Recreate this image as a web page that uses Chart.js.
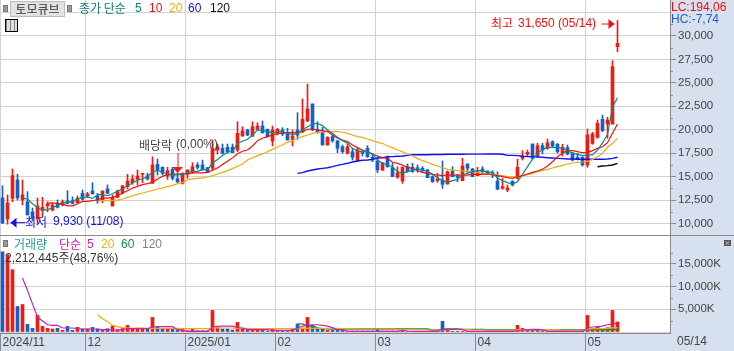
<!DOCTYPE html>
<html>
<head>
<meta charset="utf-8">
<script src="https://cdn.jsdelivr.net/npm/chart.js@4"></script>
<style>
html, body { margin: 0; padding: 0; background: #fff; }
#wrap { position: relative; width: 734px; height: 351px; overflow: hidden; background: #d6e0ee; font-family: "Noto Sans CJK KR", sans-serif; }
canvas { position: absolute; left: 0; }
#priceChart { top: 0; }
#volumeChart { top: 235px; }
.t { position: absolute; white-space: nowrap; font-size: 12px; line-height: 14px; }
.n { font-family: "Liberation Sans", sans-serif; font-size: 12px; }
.sq { position: absolute; width: 3px; height: 5px; background: #999; border: 1px solid #777; }
#stockBtn { position: absolute; left: 10px; top: 1px; width: 53px; height: 14px; background: #e2e2e2; border: 1px solid #bbb; color: #333; font-size: 12px; line-height: 14px; text-align: center; }
#tableIcon { position: absolute; left: 5px; top: 19px; width: 11px; height: 11px; border: 1px solid #000; background: repeating-linear-gradient(90deg, #888 0 1px, #ddd 1px 4px), #ddd; }
#closeIcon { position: absolute; left: 724px; top: 240px; width: 7px; height: 6px; background: #555; color: #fff; font-size: 6px; line-height: 6px; text-align: center; }
</style>
</head>
<body>
<div id="wrap">
    <canvas id="priceChart" width="734" height="235"></canvas>
    <canvas id="volumeChart" width="734" height="116"></canvas>

    <div class="sq" style="left:3px;top:5px"></div>
    <div id="stockBtn">토모큐브</div>
    <div class="sq" style="left:67px;top:5px"></div>
    <span class="t" style="left:79px;top:1px;color:#0f8080">종가 단순</span>
    <span class="t n" style="left:135px;top:1px;color:#0f8080">5</span>
    <span class="t n" style="left:149px;top:1px;color:#f01010">10</span>
    <span class="t n" style="left:169px;top:1px;color:#eeb010">20</span>
    <span class="t n" style="left:188px;top:1px;color:#1010f0">60</span>
    <span class="t n" style="left:210px;top:1px;color:#111">120</span>
    <div id="tableIcon"></div>

    <span class="t n" style="left:671px;top:0;color:#f01010">LC:194,06</span>
    <span class="t n" style="left:671px;top:12px;color:#1f5fc4">HC:-7,74</span>

    <div class="sq" style="left:3px;top:240px"></div>
    <span class="t" style="left:14px;top:237px;color:#2a9a90">거래량</span>
    <span class="t" style="left:59px;top:237px;color:#d020b0">단순</span>
    <span class="t n" style="left:87px;top:237px;color:#d020b0">5</span>
    <span class="t n" style="left:101px;top:237px;color:#eeb010">20</span>
    <span class="t n" style="left:121px;top:237px;color:#109040">60</span>
    <span class="t n" style="left:142px;top:237px;color:#808080">120</span>
    <span class="t" style="left:5px;top:250px;color:#333"><span class="n">2,212,445</span>주<span class="n">(48,76%)</span></span>
    <div id="closeIcon">×</div>
    <span class="t n" style="left:677px;top:334px;color:#444">05/14</span>
</div>

<script>
// --- DATA ---
const monthLabels = ['2024/11', '12', '2025/01', '02', '03', '04', '05'];
const monthSlots = [0, 17, 37, 55, 75, 95, 117];
const slotCount = 134; // 124 trading days plus the empty space on the right

const priceTicks = [10000, 12500, 15000, 17500, 20000, 22500, 25000, 27500, 30000, 32500];
const priceMinorTicks = [8750, 11250, 13750, 16250, 18750, 21250, 23750, 26250, 28750, 31250];
const volumeTicks = [0, 5000, 10000, 15000];
const volumeMinorTicks = [2500, 7500, 12500, 17500];

const opens = [12720,10480,12690,14640,12510,12320,11230,10480,11370,11870,
    11440,12150,11970,12400,12430,12220,13220,12930,13470,12930,
    12510,13680,11870,12790,13290,13930,14350,14710,15250,15100,
    14290,16310,15990,15070,15780,14780,14290,15250,15460,16240,
    16240,15950,15890,17840,18020,18130,18130,17840,19370,19970,
    19330,20050,20400,20050,18800,19550,19970,19730,18980,19970,
    19790,20930,22750,20050,19690,18370,19260,18830,18190,17490,
    17660,16700,17730,18020,17060,16670,15710,17060,15950,14930,
    14530,16060,15990,15950,15890,15710,14990,14570,14640,14210,
    15600,15070,14570,16310,15810,15100,15810,15600,15420,14530,
    13750,13570,14500,14820,16950,17380,18480,17200,18300,18020,
    18730,18450,17550,18090,17550,17060,17060,16240,18550,19190,
    21110,20610,20610,28860];
const closes = [10050,12190,15100,12720,13040,10910,10590,11870,11730,12080,
    11970,11730,12320,12150,12150,12690,12580,13150,13150,12430,
    13470,13220,12790,13470,14030,14530,14750,15070,15350,14750,
    16240,15710,15350,15630,14820,14460,15350,15710,16060,15990,
    15710,15460,18020,18190,17490,17660,17550,19620,19870,19440,
    20320,20400,19690,19260,19970,20050,19550,18910,19330,19440,
    21110,22210,19970,19690,18370,19190,18830,18020,17660,18190,
    17060,17840,17490,17120,16770,15710,16490,16060,14990,15420,
    15990,15530,15530,15710,15630,14880,14460,14750,14180,15520,
    14990,14930,16130,15890,14990,15520,15520,15280,15280,13650,
    13930,13790,14110,15990,17200,17590,16950,18300,17840,18620,
    18270,17660,18130,17410,16770,16850,16240,19440,19550,20690,
    19900,21040,26730,29220];
const highs = [14030,13040,15810,15250,14640,13390,11650,12720,12790,12320,
    12190,12510,12510,13500,12830,12930,13570,13330,14350,13220,
    13470,14110,13040,13570,14030,15250,15170,15710,15350,15350,
    17120,16880,16060,15990,15990,15390,15420,15710,16490,16490,
    16770,15990,18910,18480,18480,18480,18480,20860,20320,20050,
    20860,20750,20930,20080,20400,20150,20220,20150,19970,21820,
    23280,24880,22750,20860,20260,19260,19550,18830,18370,18450,
    18020,18020,17730,18300,17410,17090,16490,17200,16420,16060,
    16060,16350,16420,16240,16060,15780,15100,15350,16670,15600,
    16060,15250,16950,16420,15890,15990,16060,15600,15630,15520,
    14820,14110,14570,16850,17770,17840,18480,18550,18550,19010,
    18830,18550,18450,18370,17550,17490,17120,20080,19730,21040,
    21570,21330,27370,31650];
const lows = [10000,9930,12320,12510,11970,10910,10270,10050,10730,11260,
    11330,11650,11870,12080,12080,12190,12510,12750,13150,12150,
    12220,13150,11870,12750,13150,13680,14180,14110,14350,14640,
    14290,15170,15170,14710,14640,14350,14210,14820,15350,15780,
    15710,15420,15710,17410,17410,17490,17550,17660,19260,19370,
    19260,19970,19620,19190,18270,19440,19370,18910,18270,18980,
    19690,20860,19900,19620,18370,18370,18660,17550,17490,17410,
    16770,16700,17200,17060,16590,15420,15630,15990,14990,14820,
    14290,15460,15460,15460,15460,14880,14390,14390,13750,14210,
    14960,14460,14570,15420,14990,15100,15250,15250,14880,13650,
    13650,13390,14000,14750,16770,17200,16880,17120,17410,17910,
    18190,17490,17200,17310,16670,16770,16130,15990,18450,19090,
    19790,19090,20610,28330];

const ma5 = pad(4, [12710,12610,12110,11710,11460,11460,11710,11890,12180,12250,
    12360,12610,12820,12820,12680,13070,13070,12960,13180,13430,
    13710,14030,14320,14610,14750,15030,15460,15680,15460,15280,
    15110,15210,15210,15460,15570,15570,15750,15750,16460,16820,
    17250,17600,17710,18530,18780,18980,19440,19970,19900,19800,
    19690,19800,19800,19620,19510,19550,19970,20330,20580,20690,
    20440,19970,19620,19190,18840,18550,18020,17770,17660,17660,
    17410,16770,16420,16210,16060,15530,15350,15530,15710,15810,
    15710,15530,15280,14890,14570,14390,14570,14710,15170,15350,
    15530,15640,15640,15460,15460,14820,14570,14360,14210,14460,
    15240,16060,16840,17480,17910,18090,18130,18130,18020,17840,
    17480,17370,17240,17310,17310,17840,18590,19490,22430,23420]);
const ma10 = pad(9, [12180,12180,12180,12070,11890,11890,12110,12360,12360,12430,
    12530,12710,12710,12780,12960,13250,13500,13780,13960,14140,
    14250,14390,14750,15030,15210,15280,15280,15280,15320,15390,
    15390,15390,15460,15680,15930,16280,16640,17000,17430,17710,
    17840,18270,18840,19090,19260,19440,19620,19620,19690,19690,
    19690,19800,20050,20080,19970,19900,19800,19440,19090,18910,
    18730,18370,18090,17840,17660,17410,17200,17020,16950,16530,
    16420,16240,15990,15880,15640,15460,15350,15240,15170,15100,
    15170,15170,15170,15170,15170,15240,15240,15240,15280,15170,
    15100,15000,14890,14820,14990,15100,15280,15460,15600,15780,
    16130,16590,17120,17490,17770,17770,17660,17550,17590,17770,
    18020,18190,18620,19620,20610]);
const ma20 = pad(19, [12360,12430,12430,12460,12500,12610,12780,12960,13110,13250,
    13390,13530,13680,13780,13930,14070,14250,14390,14640,14750,
    14820,14860,14960,15110,15280,15460,15640,15850,16100,16350,
    16770,17020,17240,17410,17660,17910,18160,18370,18660,18840,
    19090,19260,19440,19620,19730,19760,19800,19800,19800,19730,
    19620,19440,19260,19190,19010,18840,18660,18550,18270,18090,
    17840,17660,17410,17200,16920,16700,16530,16310,16130,15950,
    15780,15710,15640,15600,15570,15490,15420,15350,15280,15280,
    15170,15100,15000,15000,15000,15070,15210,15350,15530,15670,
    15780,15920,16060,16200,16350,16450,16530,16560,16630,16840,
    17130,17480,18130,18550,19080]);
const ma60 = pad(59, [15350,15420,15600,15710,15810,15880,15950,16060,16200,16310,
    16420,16560,16670,16740,16770,16840,16990,17020,17130,17130,
    17170,17200,17270,17340,17340,17340,17340,17360,17360,17360,
    17380,17380,17380,17380,17400,17400,17400,17400,17410,17410,
    17410,17380,17270,17270,17240,17170,17130,17130,17090,17060,
    17020,16990,16950,16920,16880,16880,16850,16850,16850,16850,
    16850,16850,16880,16950,17060]);
const ma120 = pad(119, [16060,16130,16170,16240,16420]);

// volume in thousands of shares
const volumes = [17670,17000,13720,5620,6060,1680,800,3650,1240,800,
    660,800,370,1240,370,1020,660,660,1020,660,
    510,730,1310,510,730,1460,800,660,660,660,
    3210,1020,660,660,660,440,800,290,660,290,
    290,290,4750,880,660,660,440,2120,660,660,
    660,370,440,220,660,370,220,220,660,1750,
    880,3210,1460,660,660,370,370,660,660,220,
    220,220,220,220,220,580,220,220,220,220,
    370,150,150,100,150,150,150,150,2340,370,
    150,150,150,150,150,150,150,150,150,150,
    150,150,150,1460,800,510,510,580,150,150,
    150,150,150,150,150,150,150,3650,580,1100,
    440,950,4750,2212];
const volMa5 = pad(4, [11900,9130,6200,3290,2410,1600,
    1460,1460,880,880,880,730,660,660,660,660,
    510,510,440,370,660,730,730,800,800,730,
    1100,1170,1170,1170,1170,510,370,150,150,150,
    150,150,1100,1240,1310,1310,1310,950,880,510,
    510,510,510,510,370,370,370,370,370,880,
    1310,1460,1600,1600,1460,1310,950,510,440,150,
    150,150,150,150,150,150,150,150,150,150,
    370,220,150,150,150,150,150,150,580,580,
    580,580,580,150,150,150,150,150,150,150,
    150,150,150,300,440,510,580,580,510,150,
    150,150,150,150,150,150,150,880,1100,1170,
    1310,1600,1750,2040]);
const volMa20 = pad(19, [3800,2920,2340,1460,1170,950,880,800,800,800,800,
    800,800,800,800,800,800,730,730,730,730,
    730,730,880,950,880,880,880,800,800,800,
    730,730,730,730,730,730,730,730,730,730,
    730,800,800,800,800,800,800,800,730,730,
    730,660,660,660,660,660,660,660,660,510,
    510,510,510,510,510,440,440,440,510,510,
    510,510,510,510,440,440,440,440,440,440,
    440,440,440,510,510,510,510,510,510,510,
    510,510,440,440,440,440,440,660,730,730,
    730,800,950,950]);
const volMa60 = pad(59, [1800,1800,1310,1310,880,730,730,660,660,660,
    660,660,660,660,660,660,660,660,660,660,660,660,660,660,660,660,660,
    440,440,660,660,660,660,580,580,580,580,580,510,
    510,510,510,510,510,510,510,510,510,510,510,510,510,510,
    510,510,510,510,510,510,510,510,510,510,510,510]);
const volMa120 = pad(119, [660,660,660,660,660]);

function pad(count, values) {
    return new Array(count).fill(null).concat(values);
}

// --- COLOURS ---
const RED = '#ec1c10';
const BLUE = '#1560c8';
const GRID = '#d2d2d2';
const AXIS = '#8a8a8a';
const TEXT = '#444';
const CLEAR = 'rgba(0,0,0,0)';
const LATIN = '"Liberation Sans", sans-serif';
const HANGUL = '"Noto Sans CJK KR", sans-serif';

const slotLabels = new Array(slotCount).fill('');
monthSlots.forEach((slot, i) => { slotLabels[slot] = monthLabels[i]; });
const barColors = opens.map((o, i) => closes[i] >= o ? RED : BLUE);

function maLine(data, color, width) {
    return { type: 'line', data: data, borderColor: color, borderWidth: width, pointRadius: 0, tension: 0, order: 1 };
}

function monthGridColor(ctx) {
    return slotLabels[ctx.index] ? GRID : CLEAR;
}

// y axis with hand-picked ticks: majors get a grid line and maybe a label, minors a short mark
function rightAxis(min, max, majors, minors, isLabelled, format) {
    return {
        position: 'right',
        min: min,
        max: max,
        afterBuildTicks(scale) {
            scale.ticks = majors.concat(minors).sort((a, b) => a - b).map(v => ({ value: v }));
        },
        afterFit(scale) {
            scale.width = 64;
            scale.paddingTop = 0;
            scale.paddingBottom = 0;
        },
        border: { color: AXIS },
        grid: {
            tickLength: 6,
            color: ctx => ctx.tick && majors.includes(ctx.tick.value) ? GRID : CLEAR,
            tickColor: ctx => ctx.tick && isLabelled(ctx.tick.value) ? AXIS : CLEAR
        },
        ticks: {
            autoSkip: false,
            maxRotation: 0,
            padding: 2,
            crossAlign: 'near',
            color: TEXT,
            font: { family: LATIN, size: 11.5 },
            callback: v => isLabelled(v) ? format(v) : ''
        },
        minorValues: minors
    };
}

// white plot area, short minor ticks on the right axis
const panelPlugin = {
    id: 'panel',
    beforeDraw(chart) {
        const a = chart.chartArea;
        chart.ctx.fillStyle = '#fff';
        chart.ctx.fillRect(a.left, a.top, a.right - a.left, a.bottom - a.top);
    },
    afterDraw(chart) {
        const ctx = chart.ctx;
        const scale = chart.scales.y;
        ctx.save();
        ctx.fillStyle = AXIS;
        scale.options.minorValues.forEach(v => {
            const y = Math.round(scale.getPixelForValue(v));
            if (y >= chart.chartArea.top && y < chart.chartArea.bottom) {
                ctx.fillRect(chart.chartArea.right, y, 3, 1);
            }
        });
        ctx.restore();
    }
};

// high, low and ex-dividend notes, anchored on the candles they point at
const notesPlugin = {
    id: 'notes',
    afterDatasetsDraw(chart) {
        const ctx = chart.ctx;
        const x = chart.scales.x;
        const y = chart.scales.y;
        ctx.save();
        ctx.textBaseline = 'middle';

        const hiX = x.getPixelForValue(123);
        const hiY = y.getPixelForValue(highs[123]) + 3;
        ctx.fillStyle = '#f01010';
        ctx.strokeStyle = '#f01010';
        ctx.font = '12px ' + HANGUL;
        ctx.fillText('최고', 491, hiY);
        ctx.font = '12px ' + LATIN;
        ctx.fillText('31,650 (05/14)', 518, hiY);
        arrow(ctx, hiX - 16, hiX - 3, hiY);

        const loX = x.getPixelForValue(1);
        const loY = y.getPixelForValue(lows[1]) - 2;
        ctx.fillStyle = '#1414e0';
        ctx.strokeStyle = '#1414e0';
        ctx.font = '12px ' + HANGUL;
        ctx.fillText('최저', 25, loY);
        ctx.font = '12px ' + LATIN;
        ctx.fillText('9,930 (11/08)', 53, loY);
        arrow(ctx, loX + 18, loX + 3, loY);

        const divX = x.getPixelForValue(35);
        ctx.fillStyle = '#444';
        ctx.font = '12px ' + HANGUL;
        ctx.fillText('배당락', 139, 145);
        ctx.font = '12px ' + LATIN;
        ctx.fillText('(0,00%)', 176, 145);
        ctx.strokeStyle = RED;
        ctx.fillStyle = RED;
        ctx.beginPath();
        ctx.moveTo(divX + 0.5, 153);
        ctx.lineTo(divX + 0.5, 167);
        ctx.stroke();
        ctx.beginPath();
        ctx.moveTo(divX - 5, 167);
        ctx.lineTo(divX + 5.5, 167);
        ctx.lineTo(divX, 173);
        ctx.closePath();
        ctx.fill();
        ctx.restore();
    }
};

function arrow(ctx, fromX, toX, y) {
    const dir = toX > fromX ? 1 : -1;
    ctx.beginPath();
    ctx.moveTo(fromX, y + 0.5);
    ctx.lineTo(toX, y + 0.5);
    ctx.stroke();
    ctx.beginPath();
    ctx.moveTo(toX, y + 0.5);
    ctx.lineTo(toX - dir * 6, y - 4.5);
    ctx.lineTo(toX - dir * 6, y + 5.5);
    ctx.closePath();
    ctx.fill();
}

// top rule of the volume panel
const rulePlugin = {
    id: 'rule',
    afterDraw(chart) {
        chart.ctx.fillStyle = AXIS;
        chart.ctx.fillRect(0, chart.chartArea.top, 734, 1);
    }
};

const sharedOptions = { responsive: false, animation: false, events: [], layout: { padding: 0 }, plugins: { legend: { display: false }, tooltip: { enabled: false } } };

// --- PRICE PANEL ---
new Chart(document.getElementById('priceChart'), {
    type: 'bar',
    data: {
        labels: slotLabels,
        datasets: [
            maLine(ma5, '#0f8a80', 1.2),
            maLine(ma10, '#f01010', 1.2),
            maLine(ma20, '#eeaa10', 1.2),
            maLine(ma60, '#1010f0', 1.4),
            maLine(ma120, '#000', 1.4),
            { data: opens.map((o, i) => [o, closes[i]]), backgroundColor: barColors, barThickness: 3, grouped: false, minBarLength: 1, order: 2 },
            { data: lows.map((l, i) => [l, highs[i]]), backgroundColor: barColors, barThickness: 1, grouped: false, order: 3 }
        ]
    },
    options: {
        ...sharedOptions,
        scales: {
            x: {
                afterFit(scale) {
                    scale.height = 0;
                    scale.paddingLeft = 0;
                    scale.paddingRight = 0;
                },
                border: { display: false },
                grid: { offset: true, color: monthGridColor, drawTicks: false },
                ticks: { display: false, autoSkip: false }
            },
            y: rightAxis(8773, 33840, priceTicks, priceMinorTicks,
                v => v >= 10000 && v <= 30000 && priceTicks.includes(v),
                v => v.toLocaleString('en-US'))
        }
    },
    plugins: [panelPlugin, notesPlugin]
});

// --- VOLUME PANEL ---
new Chart(document.getElementById('volumeChart'), {
    type: 'bar',
    data: {
        labels: slotLabels,
        datasets: [
            maLine(volMa5, '#d020b0', 1.2),
            maLine(volMa20, '#eeaa10', 1.2),
            maLine(volMa60, '#109040', 1.4),
            maLine(volMa120, '#808080', 1.2),
            { data: volumes, backgroundColor: barColors, barThickness: 3, order: 2 }
        ]
    },
    options: {
        ...sharedOptions,
        scales: {
            x: {
                afterFit(scale) {
                    scale.height = 18;
                    scale.paddingLeft = 0;
                    scale.paddingRight = 0;
                },
                border: { color: AXIS },
                grid: {
                    offset: true,
                    tickLength: 18,
                    color: monthGridColor,
                    tickColor: ctx => slotLabels[ctx.index] ? AXIS : CLEAR
                },
                ticks: {
                    autoSkip: false,
                    maxRotation: 0,
                    align: 'start',
                    padding: -16,
                    color: TEXT,
                    font: { family: LATIN, size: 12 },
                    callback: function(v, i) { return slotLabels[i]; }
                }
            },
            y: rightAxis(-220, 21370, volumeTicks, volumeMinorTicks,
                v => v > 0 && volumeTicks.includes(v),
                v => v.toLocaleString('en-US') + 'K')
        }
    },
    plugins: [panelPlugin, rulePlugin]
});
</script>
</body>
</html>
